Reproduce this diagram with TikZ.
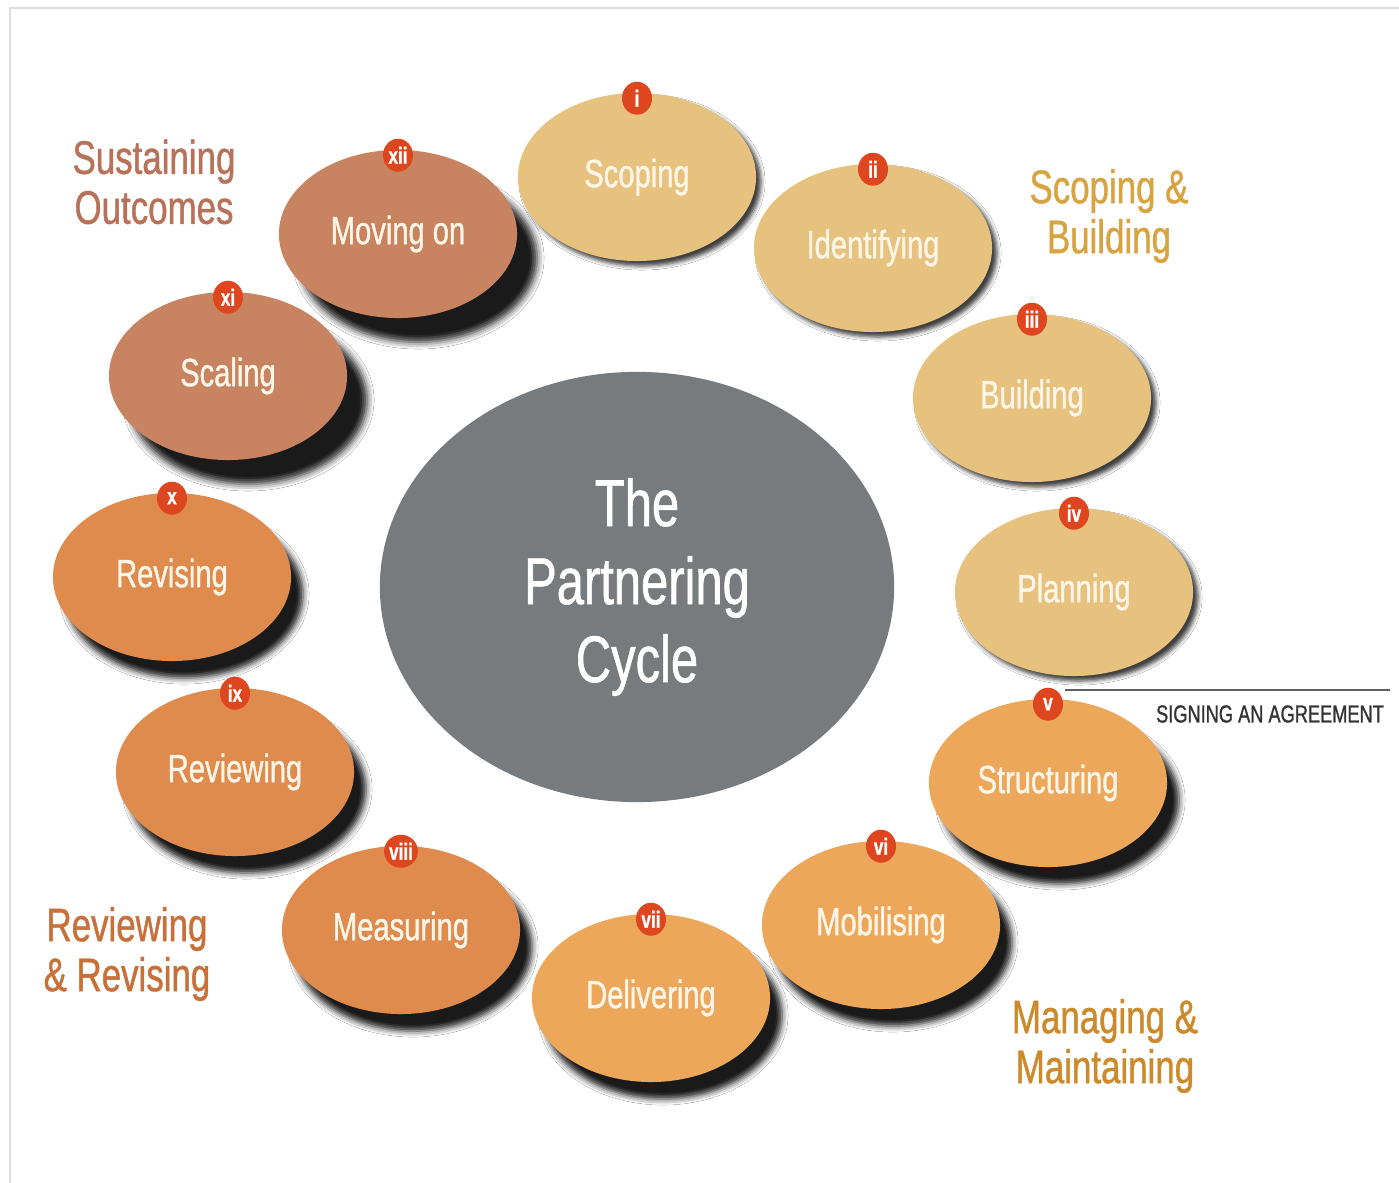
\documentclass[tikz,border=0pt]{standalone}
\usepackage{fontspec}
\setmainfont{Liberation Sans}
\newfontfamily\condfont[FakeStretch=0.74,FakeBold=0.9]{Liberation Sans}
\usetikzlibrary{shapes.geometric,shadows,shadows.blur,positioning}

\definecolor{tanfill}{RGB}{231,194,127}
\definecolor{orangefill}{RGB}{237,167,91}
\definecolor{rustfill}{RGB}{223,139,77}
\definecolor{brownfill}{RGB}{200,131,96}
\definecolor{hubfill}{RGB}{119,123,126}
\definecolor{badgefill}{RGB}{222,70,32}
\definecolor{stagetext}{RGB}{253,246,232}
\definecolor{sustaincol}{RGB}{184,114,89}
\definecolor{scopecol}{RGB}{216,164,65}
\definecolor{reviewcol}{RGB}{200,112,58}
\definecolor{managecol}{RGB}{204,138,43}
\definecolor{framecol}{RGB}{222,222,222}

\begin{document}
\begin{tikzpicture}
        [x=0.01cm,y=-0.01cm,
        stage/.style={ellipse,minimum width=2.38cm,minimum height=1.68cm,inner sep=0pt,
            text=stagetext,font=\condfont\fontsize{11.2}{13}\selectfont},
        badge/.style={ellipse,fill=badgefill,minimum width=0.30cm,minimum height=0.33cm,inner sep=0pt,
            text=white,font=\condfont\bfseries\fontsize{6.6}{6.6}\selectfont},
        group/.style={align=center,inner sep=0pt,font=\condfont\fontsize{13.4}{14.2}\selectfont},
        shadow light/.style={blur shadow={shadow xshift=0.05cm,shadow yshift=-0.05cm,
            shadow blur radius=0.04cm,shadow opacity=75}},
        shadow mid/.style={blur shadow={shadow xshift=0.12cm,shadow yshift=-0.17cm,
            shadow blur radius=0.06cm,shadow opacity=90}},
        shadow deep/.style={blur shadow={shadow xshift=0.2cm,shadow yshift=-0.24cm,
            shadow blur radius=0.07cm,shadow opacity=90}}]

        \useasboundingbox (0,0) rectangle (1399,1183);
        \fill[white] (0,0) rectangle (1399,1183);
        \draw[framecol,line width=0.6pt] (10,1183) -- (10,8) -- (1399,8);

        % centre of the cycle
        \node[ellipse,fill=hubfill,minimum width=5.14cm,minimum height=4.30cm,inner sep=0pt,
            align=center,text=white,font=\condfont\fontsize{18.8}{22.2}\selectfont] (hub) at (637,587)
            {The\\Partnering\\Cycle};

        % the twelve stages, drawn so each shadow falls under the next one
        \node[stage,fill=brownfill,shadow deep] (movingon) at (398,234) {Moving on};
        \node[stage,fill=brownfill,shadow deep] (scaling) at (228,376) {Scaling};
        \node[stage,fill=rustfill,shadow mid] (revising) at (172,577) {Revising};
        \node[stage,fill=rustfill,shadow mid] (reviewing) at (235,772) {Reviewing};
        \node[stage,fill=rustfill,shadow mid] (measuring) at (401,930) {Measuring};
        \node[stage,fill=orangefill,shadow mid] (delivering) at (651,998) {Delivering};
        \node[stage,fill=orangefill,shadow mid] (mobilising) at (881,925) {Mobilising};
        \node[stage,fill=orangefill,shadow mid] (structuring) at (1048,783) {Structuring};
        \node[stage,fill=tanfill,shadow light] (planning) at (1074,592) {Planning};
        \node[stage,fill=tanfill,shadow light] (building) at (1032,398) {Building};
        \node[stage,fill=tanfill,shadow light] (identifying) at (873,248) {Identifying};
        \node[stage,fill=tanfill,shadow light] (scoping) at (637,177) {Scoping};

        % numbers
        \node[badge] (num1) at ([yshift=-0.06cm]scoping.north) {i};
        \node[badge] (num2) at ([yshift=-0.06cm]identifying.north) {ii};
        \node[badge] (num3) at ([yshift=-0.06cm]building.north) {iii};
        \node[badge] (num4) at ([yshift=-0.06cm]planning.north) {iv};
        \node[badge] (num5) at ([yshift=-0.06cm]structuring.north) {v};
        \node[badge] (num6) at ([yshift=-0.06cm]mobilising.north) {vi};
        \node[badge] (num7) at ([yshift=-0.06cm]delivering.north) {vii};
        \node[badge] (num8) at ([yshift=-0.06cm]measuring.north) {viii};
        \node[badge] (num9) at ([yshift=-0.06cm]reviewing.north) {ix};
        \node[badge] (num10) at ([yshift=-0.06cm]revising.north) {x};
        \node[badge] (num11) at ([yshift=-0.06cm]scaling.north) {xi};
        \node[badge] (num12) at ([yshift=-0.06cm]movingon.north) {xii};

        % phase titles
        \node[group,text=sustaincol] (sustain) at (154,182) {Sustaining\\Outcomes};
        \node[group,text=scopecol] (scopebuild) at (1109,216) {Scoping \&\\Building};
        \node[group,text=reviewcol] (reviewrevise) at (127,954) {Reviewing\\\& Revising};
        \node[group,text=managecol] (managemaintain) at (1105,1046) {Managing \&\\Maintaining};

        % agreement marker
        \coordinate (signleft) at (1065,690);
        \coordinate (signright) at (1390,690);
        \draw[gray!75!black,line width=0.6pt] (signleft) -- (signright);
        \node[inner sep=0pt,text=black!80,font=\condfont\fontsize{7}{8}\selectfont] (signtext)
            at (1270,714) {SIGNING AN AGREEMENT};

    \end{tikzpicture}
\end{document}
